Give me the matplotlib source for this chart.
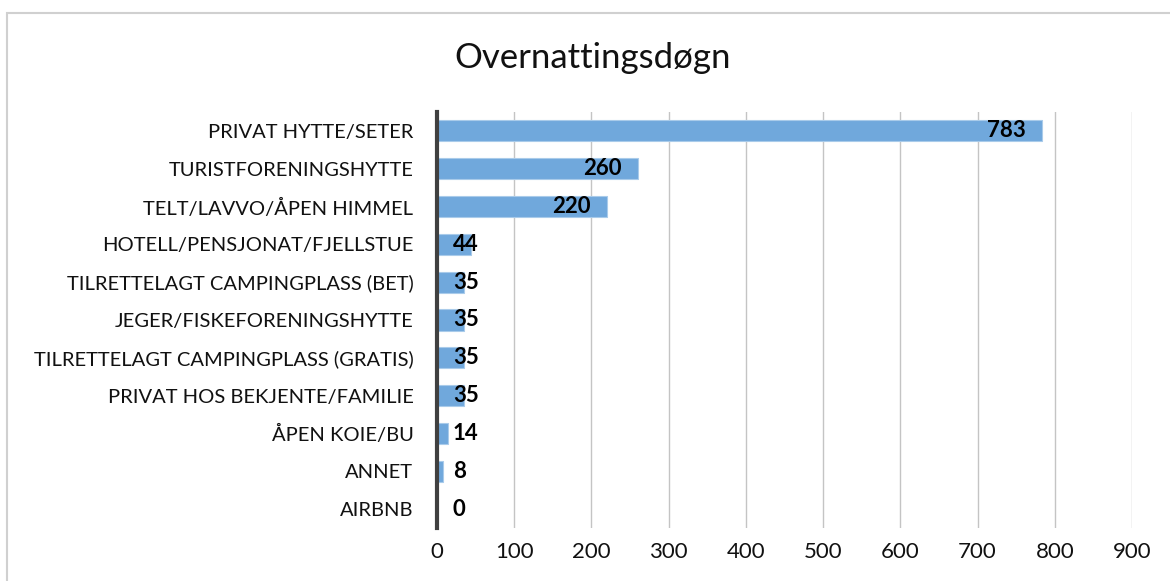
import matplotlib
matplotlib.use('Agg')
import matplotlib.pyplot as plt
from matplotlib.patches import Rectangle

plt.rcParams['font.family'] = ['Lato', 'DejaVu Sans']

kategorier = ['PRIVAT HYTTE/SETER', 'TURISTFORENINGSHYTTE', 'TELT/LAVVO/ÅPEN HIMMEL',
              'HOTELL/PENSJONAT/FJELLSTUE', 'TILRETTELAGT CAMPINGPLASS (BET)',
              'JEGER/FISKEFORENINGSHYTTE', 'TILRETTELAGT CAMPINGPLASS (GRATIS)',
              'PRIVAT HOS BEKJENTE/FAMILIE', 'ÅPEN KOIE/BU', 'ANNET', 'AIRBNB']
verdier = [783, 260, 220, 44, 35, 35, 35, 35, 14, 8, 0]
xticks = [0, 100, 200, 300, 400, 500, 600, 700, 800, 900]

fig = plt.figure(figsize=(11.7, 5.81), dpi=100)
ax = fig.add_axes([437/1170, 1-528/581, (1132-437)/1170, (528-112)/581])

pos = list(range(len(kategorier)))
ax.barh(pos, verdier, height=0.56, color='#70a8dc', edgecolor='#a9cbea', linewidth=0.8, zorder=2)
ax.set_ylim(len(kategorier) - 0.5, -0.5)
ax.set_xlim(0, 900)
ax.set_yticks(pos)
ax.set_yticklabels(kategorier, fontsize=14.5, color='#111111')
ax.set_xticks(xticks)
ax.set_xticklabels([str(t) for t in xticks], fontsize=16, color='#111111')
ax.tick_params(axis='y', length=0, pad=17)
ax.tick_params(axis='x', length=0, pad=10)
ax.grid(axis='x', color='#c4c4c4', linewidth=1.0, zorder=0)
ax.set_axisbelow(True)
for s in ['top', 'right', 'bottom']:
    ax.spines[s].set_visible(False)
ax.spines['left'].set_color('#404040')
ax.spines['left'].set_linewidth(3)
ax.spines['left'].set_zorder(3)

for i, v in enumerate(verdier):
    if v > 100:
        ax.annotate(str(v), (v, i), xytext=(-11.5, 0), textcoords='offset points',
                    ha='right', va='center', fontsize=16, fontweight='bold', zorder=4)
    else:
        ax.annotate(str(v), (0, i), xytext=(11.5, 0), textcoords='offset points',
                    ha='left', va='center', fontsize=16, fontweight='bold', zorder=4)

fig.text(593/1170, 1-58/581, 'Overnattingsdøgn', ha='center', va='center', fontsize=25, color='#111111')

fig.patches.append(Rectangle((7/1170, -0.1), 1.2, 1-13/581+0.1, transform=fig.transFigure,
                             fill=False, edgecolor='#d0d0d0', linewidth=1.5))

fig.savefig('out.png', dpi=100)
